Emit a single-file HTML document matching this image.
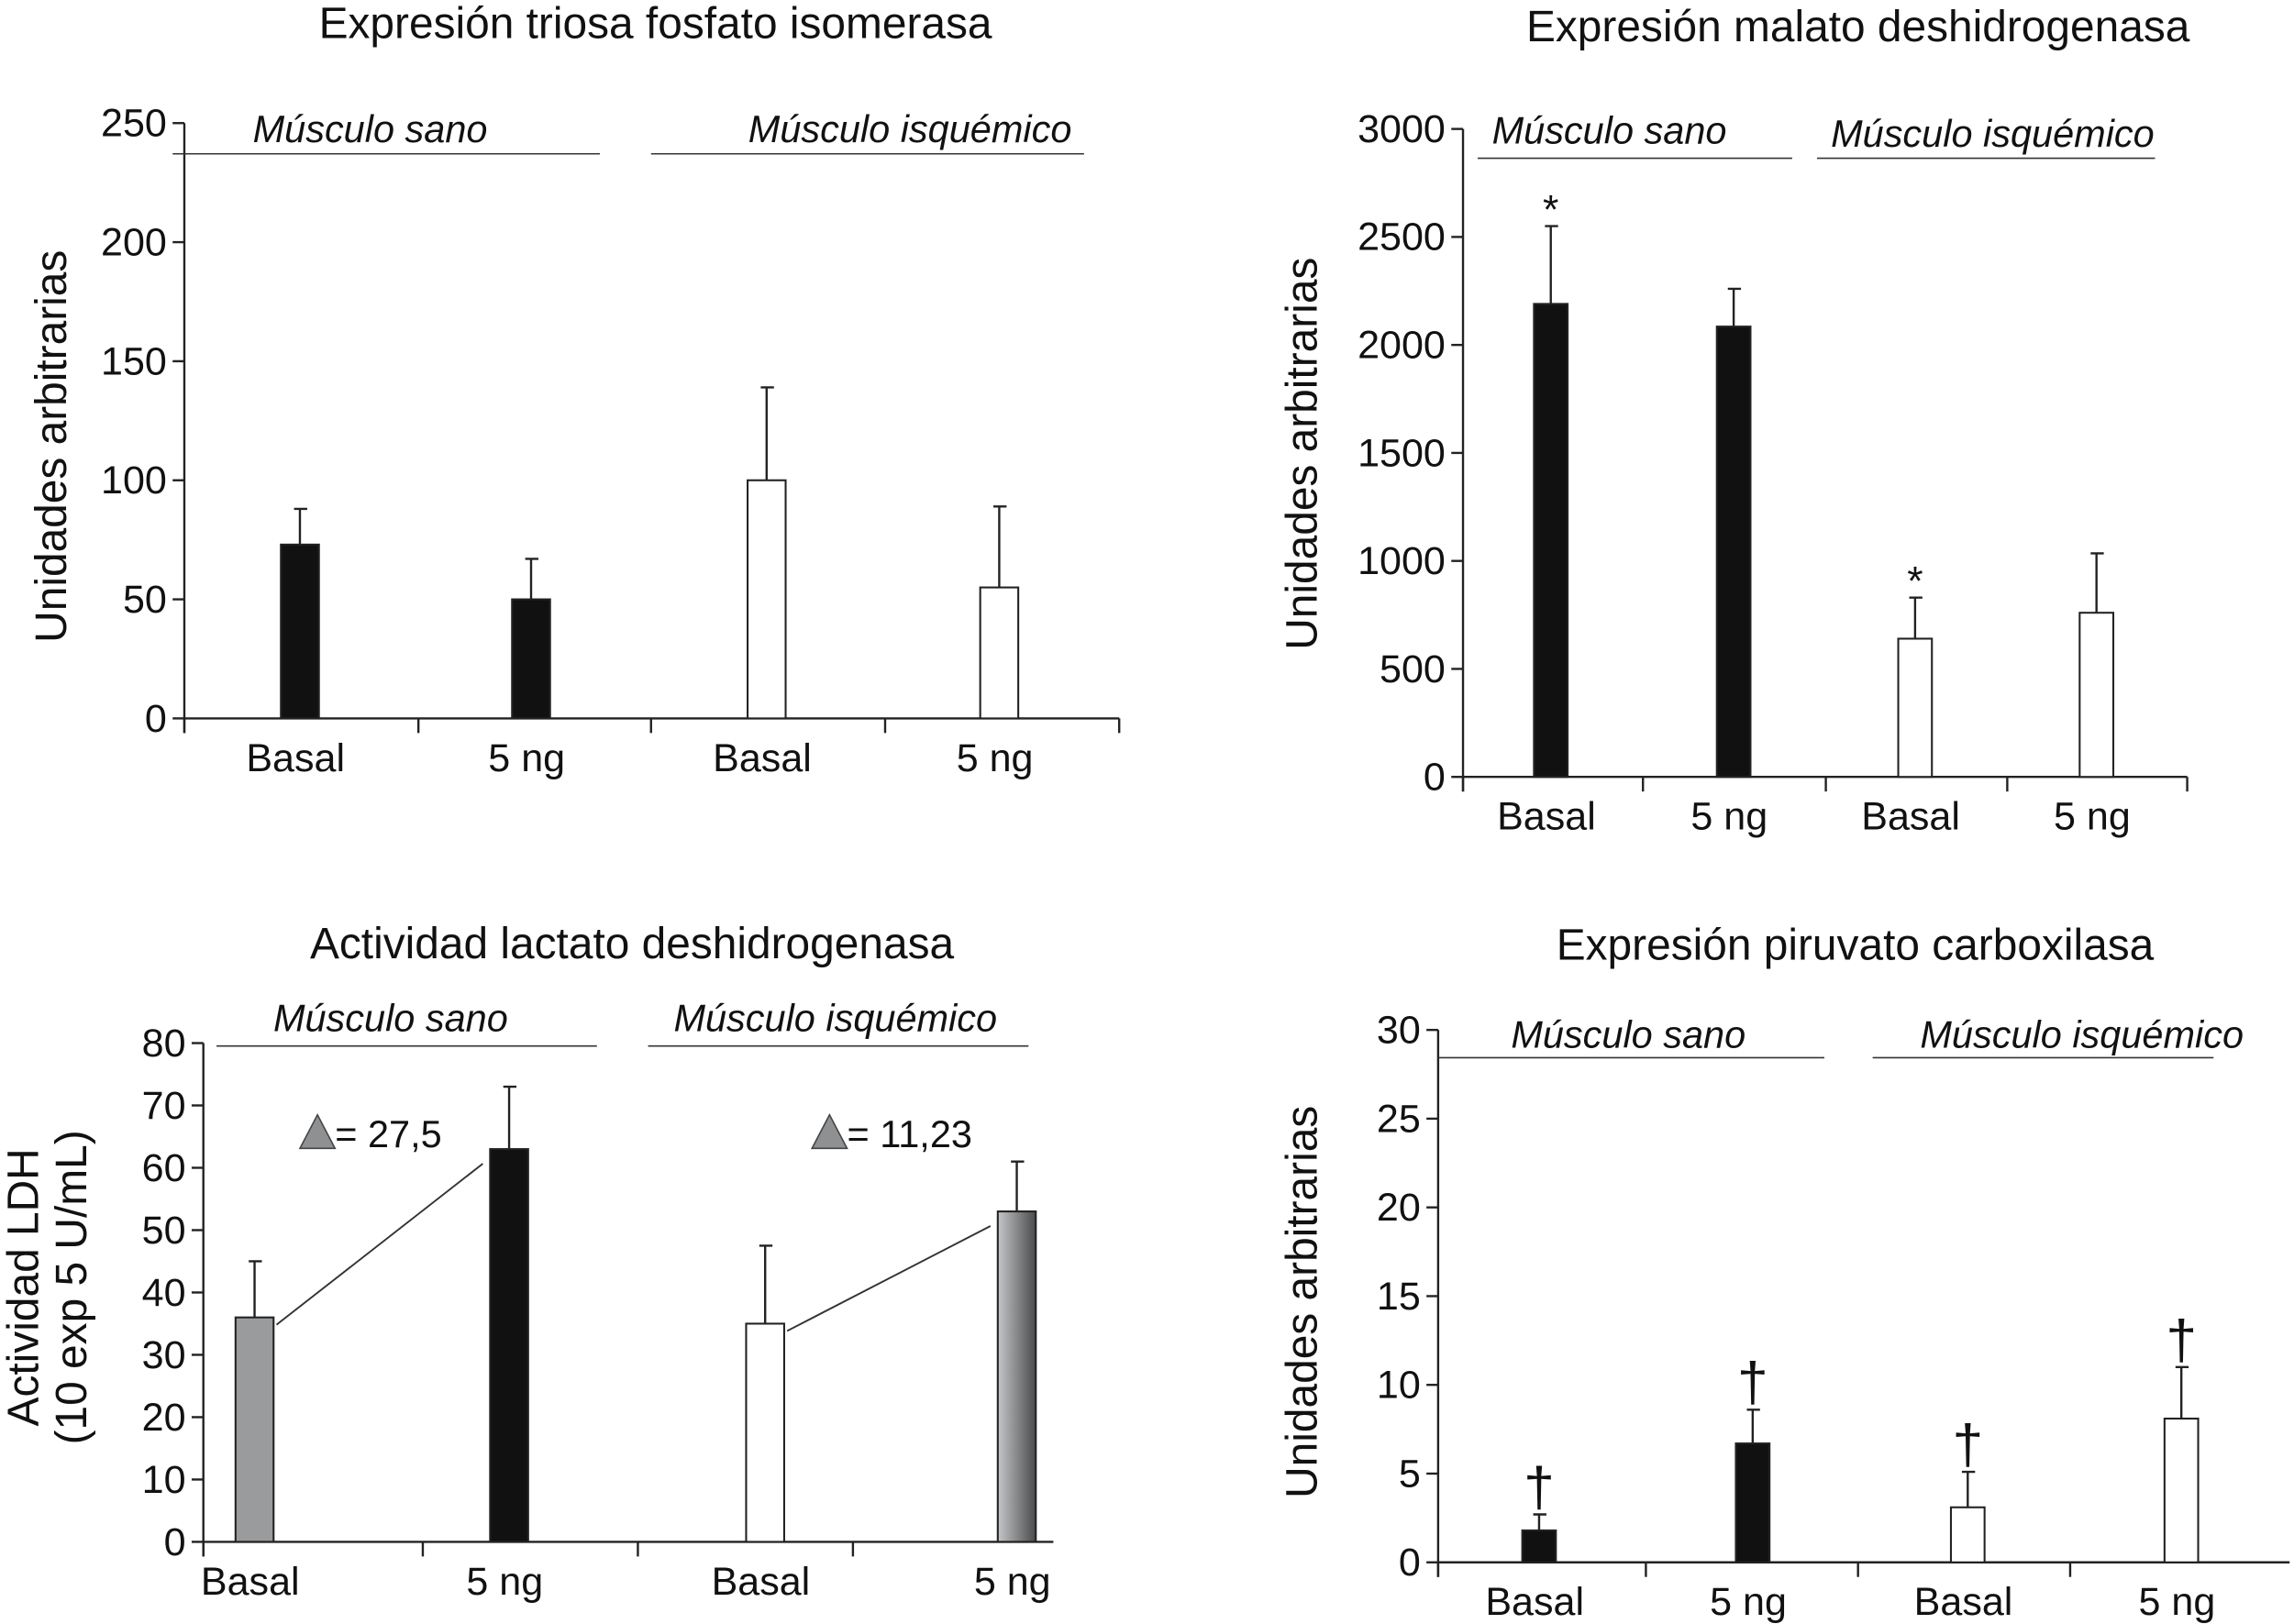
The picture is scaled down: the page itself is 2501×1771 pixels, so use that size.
<!DOCTYPE html>
<html><head><meta charset="utf-8"><style>
html,body{margin:0;padding:0;background:#fff}
svg{display:block}
text{font-family:"Liberation Sans",sans-serif;fill:#111}
</style></head><body>
<svg id="fig" width="2501" height="1771" viewBox="0 0 1568 1110" xmlns="http://www.w3.org/2000/svg">
<defs>
<linearGradient id="grad" x1="0" x2="1" y1="0" y2="0"><stop offset="0" stop-color="#c4c6c9"/><stop offset="1" stop-color="#4a4b4d"/></linearGradient>
</defs>
</svg>
<script>
// Chart 1: triosa fosfato isomerasa
const c1Categories=["Basal","5 ng","Basal","5 ng"];
const c1Values=[73,50,100,55];
const c1Errors=[88,67,139,89];
const c1Ticks=[0,50,100,150,200,250];
// Chart 2: malato deshidrogenasa
const c2Categories=["Basal","5 ng","Basal","5 ng"];
const c2Values=[2190,2085,640,760];
const c2Errors=[2550,2260,830,1035];
const c2Ticks=[0,500,1000,1500,2000,2500,3000];
// Chart 3: lactato deshidrogenasa
const c3Categories=["Basal","5 ng","Basal","5 ng"];
const c3Values=[36,63,35,53];
const c3Errors=[45,73,47.5,61];
const c3Ticks=[0,10,20,30,40,50,60,70,80];
// Chart 4: piruvato carboxilasa
const c4Categories=["Basal","5 ng","Basal","5 ng"];
const c4Values=[1.8,6.7,3.1,8.1];
const c4Errors=[2.7,8.6,5.1,11];
const c4Ticks=[0,5,10,15,20,25,30];

const svg=document.getElementById('fig');
const NS='http://www.w3.org/2000/svg';
function mk(tag,attrs,parent,txt){const e=document.createElementNS(NS,tag);for(const k in attrs)e.setAttribute(k,attrs[k]);if(txt!==undefined)e.textContent=txt;(parent||svg).appendChild(e);return e;}

function chart(cfg){
  const g=mk('g',{});
  
  
  const max=cfg.ticks[cfg.ticks.length-1];
  const y=v=>cfg.y0-(v/max)*(cfg.y0-cfg.yTop);
  const x=i=>cfg.centers[i];
  const t=mk('text',{x:cfg.titleX,y:cfg.titleY,'text-anchor':'middle','font-size':30},g,cfg.title);
  
  
  const ax=mk('line',{x1:cfg.ax,y1:cfg.yTop,x2:cfg.ax,y2:cfg.y0+10,stroke:'#222','stroke-width':1.5},g);
  
  
  const xa=mk('line',{x1:cfg.ax,y1:cfg.y0,x2:cfg.xEnd,y2:cfg.y0,stroke:'#222','stroke-width':1.5},g);
  
  
  cfg.xTicks.forEach(px=>{mk('line',{x1:px,y1:cfg.y0,x2:px,y2:cfg.y0+10,stroke:'#222','stroke-width':1.5},g);});
  cfg.ticks.forEach(v=>{
    mk('line',{x1:cfg.ax-8,y1:y(v),x2:cfg.ax,y2:y(v),stroke:'#222','stroke-width':1.5},g);
    const tl=mk('text',{x:cfg.ax-12,y:y(v)+9,'text-anchor':'end','font-size':27},g,String(v));
    
    
  });
  cfg.cats.forEach((c,i)=>{
    const bw=cfg.bw;
    const top=y(cfg.vals[i]);
    const bar=mk('rect',{x:x(i)-bw/2,y:top,width:bw,height:cfg.y0-top,fill:cfg.fills[i],stroke:'#222','stroke-width':1.3},g);
    
    
    const et=y(cfg.errs[i]);
    const eb=mk('path',{d:`M${x(i)} ${top}V${et}M${x(i)-4} ${et}H${x(i)+5}`,stroke:'#222','stroke-width':1.5,fill:'none'},g);
    
    
    const lb=mk('text',{x:x(i)-3,y:cfg.y0+36,'text-anchor':'middle','font-size':27},g,c);
    
    
    if(cfg.marks&&cfg.marks[i]){
      const m=mk('text',{x:x(i),y:et-cfg.markGap,'text-anchor':'middle','font-size':cfg.markSize},g,cfg.marks[i]);
      
      
    }
  });
  cfg.groups.forEach(gr=>{
    const gl=mk('text',{x:gr.tx,y:gr.ty,'text-anchor':'middle','font-size':26,'font-style':'italic'},g,gr.label);
    
    
    mk('line',{x1:gr.x1,y1:gr.ly,x2:gr.x2,y2:gr.ly,stroke:'#333','stroke-width':1},g);
  });
  const yl=mk('text',{transform:`translate(${cfg.ylX},${cfg.ylY}) rotate(-90)`,'text-anchor':'middle','font-size':30},g);
  
  
  cfg.yLabel.forEach((l,k)=>{mk('tspan',{x:0,dy:k?33:0},yl,l);});
  return {g,y,x};
}

chart({name:'chart-triosa',title:'Expresión triosa fosfato isomerasa',titleX:448,titleY:26,ax:126,xEnd:765,y0:491,yTop:84,
  ticks:c1Ticks,centers:[205,363,524,683],xTicks:[126,286,445,605,765],bw:26,cats:c1Categories,vals:c1Values,errs:c1Errors,
  fills:['#111','#111','#fff','#fff'],groups:[{label:'Músculo sano',tx:253,ty:97,x1:118,x2:410,ly:105},{label:'Músculo isquémico',tx:622,ty:97,x1:445,x2:741,ly:105}],
  yLabel:['Unidades arbitrarias'],ylX:45,ylY:305});

chart({name:'chart-malato',title:'Expresión malato deshidrogenasa',titleX:1270,titleY:28,ax:1000,xEnd:1495,y0:531,yTop:88,
  ticks:c2Ticks,centers:[1060,1185,1309,1433],xTicks:[1000,1123,1248,1372,1495],bw:23,cats:c2Categories,vals:c2Values,errs:c2Errors,
  fills:['#111','#111','#fff','#fff'],marks:['*','','*',''],markGap:2,markSize:28,
  groups:[{label:'Músculo sano',tx:1100,ty:98,x1:1010,x2:1225,ly:108},{label:'Músculo isquémico',tx:1362,ty:100,x1:1242,x2:1473,ly:108}],
  yLabel:['Unidades arbitrarias'],ylX:900,ylY:310});

const ldh=chart({name:'chart-lactato',title:'Actividad lactato deshidrogenasa',titleX:432,titleY:655,ax:139,xEnd:720,y0:1054,yTop:713,
  ticks:c3Ticks,centers:[174,348,523,695],xTicks:[139,289,436,583],bw:26,cats:c3Categories,vals:c3Values,errs:c3Errors,
  fills:['#9a9b9d','#111','#fff','url(#grad)'],
  groups:[{label:'Músculo sano',tx:267,ty:705,x1:148,x2:408,ly:715},{label:'Músculo isquémico',tx:571,ty:705,x1:443,x2:703,ly:715}],
  yLabel:['Actividad LDH','(10 exp 5 U/mL)'],ylX:26,ylY:880});
[[0,1,'= 27,5',205],[2,3,'= 11,23',555]].forEach(([a,b,lab,tx])=>{
  const ln=mk('line',{x1:ldh.x(a)+15,y1:ldh.y(c3Values[a])+5,x2:ldh.x(b)-18,y2:ldh.y(c3Values[b])+10,stroke:'#333','stroke-width':1.2},ldh.g);
  
  
  const tr=mk('path',{d:`M${tx} 785L${tx+12} 762L${tx+24} 785Z`,fill:'#8f9092',stroke:'#444','stroke-width':1},ldh.g);
  
  
  const dt=mk('text',{x:tx+24,y:784,'font-size':26},ldh.g,lab);
  
  
});

chart({name:'chart-piruvato',title:'Expresión piruvato carboxilasa',titleX:1268,titleY:656,ax:983,xEnd:1565,y0:1068,yTop:704,
  ticks:c4Ticks,centers:[1052,1198,1345,1491],xTicks:[983,1125,1270,1415],bw:23,cats:c4Categories,vals:c4Values,errs:c4Errors,
  fills:['#111','#111','#fff','#fff'],marks:['†','†','†','†'],markGap:6,markSize:38,
  groups:[{label:'Músculo sano',tx:1113,ty:716,x1:983,x2:1247,ly:723},{label:'Músculo isquémico',tx:1423,ty:716,x1:1280,x2:1513,ly:723}],
  yLabel:['Unidades arbitrarias'],ylX:900,ylY:890});
</script>
</body></html>
